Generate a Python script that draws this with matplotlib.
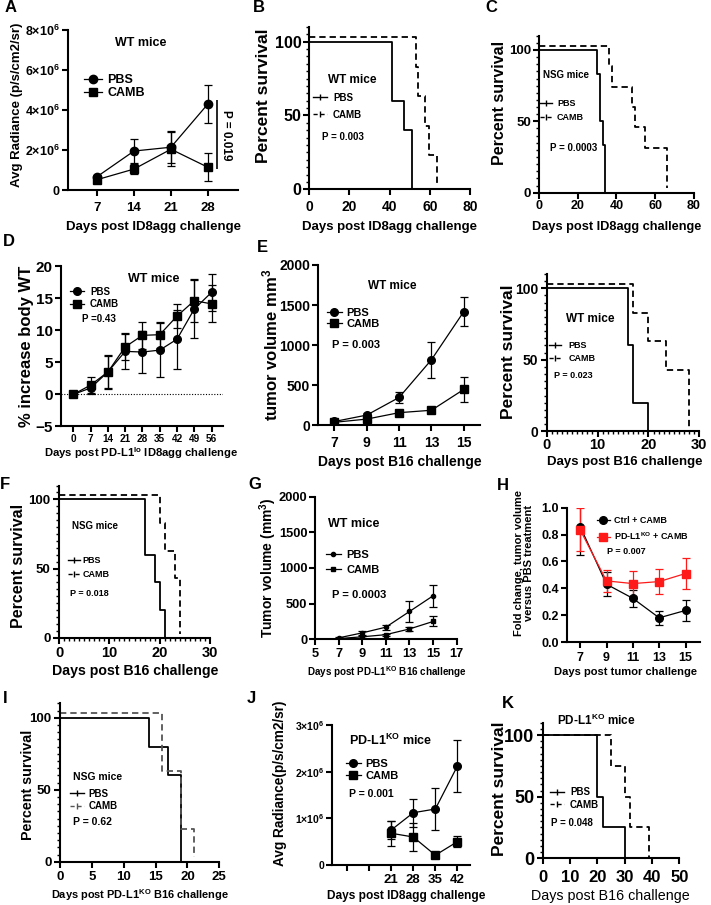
import matplotlib
matplotlib.use('Agg')
import matplotlib.pyplot as plt
from matplotlib.lines import Line2D
from matplotlib.ticker import MultipleLocator, FixedLocator

plt.rcParams['font.family'] = ['Liberation Sans', 'DejaVu Sans']
plt.rcParams['font.weight'] = 'bold'
plt.rcParams['axes.labelweight'] = 'bold'
plt.rcParams['mathtext.fontset'] = 'custom'
plt.rcParams['mathtext.rm'] = 'Liberation Sans:bold'
plt.rcParams['mathtext.it'] = 'Liberation Sans:bold'
plt.rcParams['mathtext.bf'] = 'Liberation Sans:bold'
plt.rcParams['mathtext.default'] = 'rm'

W, H = 711, 905
RED = '#ff1a1a'

# ---------------- data ----------------
# A: ID8agg radiance, WT mice
a_days = [7, 14, 21, 28]
a_pbs = [0.68e6, 1.96e6, 2.15e6, 4.31e6]
a_pbs_err = [0.08e6, 0.6e6, 0.8e6, 0.93e6]
a_camb = [0.53e6, 1.06e6, 2.05e6, 1.15e6]
a_camb_err = [0.08e6, 0.27e6, 0.85e6, 0.7e6]

# B: survival ID8agg, WT mice
b_pbs_t = [0, 41, 47, 51]
b_pbs_s = [100, 60, 40, 0]
b_camb_t = [0, 53, 54, 57.5, 59.5, 63.5]
b_camb_s = [100, 80, 60, 40, 20, 0]

# C: survival ID8agg, NSG mice
c_pbs_t = [0, 30, 31.5, 33, 34]
c_pbs_s = [100, 83.3, 50, 33.3, 0]
c_camb_t = [0, 36, 38, 48, 49.5, 55, 66]
c_camb_s = [100, 85.7, 71.4, 57.1, 42.9, 28.6, 0]

# D: body weight
d_days = [0, 7, 14, 21, 28, 35, 42, 49, 56]
d_pbs = [0, 1.0, 3.5, 6.7, 6.6, 6.9, 8.6, 13.3, 15.9]
d_pbs_err = [0, 0.9, 2.6, 2.7, 3.3, 4.2, 4.6, 4.5, 2.9]
d_camb = [0, 1.45, 3.5, 7.4, 9.2, 9.3, 12.2, 14.6, 14.1]
d_camb_err = [0, 1.2, 2.5, 2.1, 2.1, 2.0, 1.9, 3.3, 2.9]

# E: B16 tumor volume, WT mice
e_days = [7, 9, 11, 13, 15]
e_pbs = [50, 130, 350, 820, 1420]
e_pbs_err = [15, 30, 65, 225, 185]
e_camb = [40, 80, 160, 190, 450]
e_camb_err = [10, 20, 30, 40, 155]

# E (right): survival B16, WT mice
es_pbs_t = [0, 16, 17, 20]
es_pbs_s = [100, 60, 20, 0]
es_camb_t = [0, 17, 20, 23.5, 28]
es_camb_s = [100, 80, 60, 40, 0]

# F: survival B16, NSG mice
f_pbs_t = [0, 17, 19, 20, 21]
f_pbs_s = [100, 60, 40, 20, 0]
f_camb_t = [0, 20, 21, 23, 24]
f_camb_s = [100, 80, 60, 40, 0]

# G: PD-L1KO B16 tumor volume
g_days = [7, 9, 11, 13, 15]
g_pbs = [20, 90, 170, 390, 610]
g_pbs_err = [10, 30, 35, 150, 150]
g_camb = [10, 35, 65, 145, 250]
g_camb_err = [5, 10, 15, 30, 70]

# H: fold change
h_days = [7, 9, 11, 13, 15]
h_ctrl = [0.86, 0.43, 0.325, 0.18, 0.235]
h_ctrl_err = [0.21, 0.09, 0.065, 0.05, 0.08]
h_ko = [0.835, 0.455, 0.435, 0.45, 0.51]
h_ko_err = [0.16, 0.08, 0.09, 0.09, 0.115]

# I: survival PD-L1KO B16, NSG mice
i_pbs_t = [0, 14, 17, 19]
i_pbs_s = [100, 80, 60, 0]
i_camb_t = [0, 16, 19, 21]
i_camb_s = [100, 60, 20, 0]

# J: ID8agg radiance, PD-L1KO mice
j_days = [21, 28, 35, 42]
j_pbs = [0.75e6, 1.12e6, 1.2e6, 2.12e6]
j_pbs_err = [0.2e6, 0.3e6, 0.45e6, 0.56e6]
j_camb = [0.68e6, 0.6e6, 0.21e6, 0.5e6]
j_camb_err = [0.27e6, 0.3e6, 0.06e6, 0.12e6]

# K: survival B16, PD-L1KO mice
k_pbs_t = [0, 20, 22, 30]
k_pbs_s = [100, 50, 25, 0]
k_camb_t = [0, 25, 30, 32, 39]
k_camb_s = [100, 75, 50, 25, 0]

fig = plt.figure(figsize=(W / 100, H / 100), dpi=100)
TICK = 4.5  # major tick length, pt


def add_ax(x0, x1, yt, yb):
    ax = fig.add_axes([x0 / W, 1 - yb / H, (x1 - x0) / W, (yb - yt) / H])
    for s in ['top', 'right']:
        ax.spines[s].set_visible(False)
    for s in ['left', 'bottom']:
        ax.spines[s].set_linewidth(1.5)
    ax.tick_params(which='major', width=1.5, length=TICK, pad=1.5)
    ax.tick_params(which='minor', width=1.0, length=2.5)
    ax._yb = yb
    return ax


def xticks_at(ax, fs, center):
    # put x tick label digits centred at pixel row `center`
    fpx = fs * 100 / 72
    pad = (center - ax._yb - TICK * 100 / 72 - 0.39 * fpx) * 72 / 100
    ax.tick_params(axis='x', labelsize=fs, pad=max(pad, 0))


def ftext(x, y, s, fs, **kw):
    kw.setdefault('ha', 'left')
    kw.setdefault('va', 'center')
    kw.setdefault('fontweight', 'bold')
    return fig.text(x / W, 1 - y / H, s, fontsize=fs, **kw)


def legend(ax, handles, labels, mx, tx, y0, row, fs, hl=1.4):
    fpx = fs * 100 / 72
    th = 1.16 * fpx
    ls = max((row - th) / fpx, 0)
    left = mx - hl * fpx / 2
    pad = (tx - left - hl * fpx) / fpx
    ax.legend(handles, labels, loc='upper left',
              bbox_to_anchor=(left / W, 1 - (y0 - th / 2) / H),
              bbox_transform=fig.transFigure, frameon=False, borderpad=0,
              borderaxespad=0, handlelength=hl, handletextpad=pad,
              labelspacing=ls, prop={'size': fs, 'weight': 'bold'},
              numpoints=1)


def surv_proxies(dash_color='k'):
    return [Line2D([0], [0], color='k', lw=1.0, marker='|', ms=5),
            Line2D([0], [0], color=dash_color, lw=1.0, ls=(0, (3, 2)), marker='|', ms=5)]


def survival(ax, pt, ps, ct, cs, offset=3, dash_color='k'):
    ax.step(pt, ps, where='post', color='k', lw=1.3)
    ax.step(ct, [v + offset for v in cs], where='post', color=dash_color,
            lw=1.3, ls=(0, (3.5, 2.2)))
    ax.set_ylim(0, 110)
    ax.yaxis.set_major_locator(FixedLocator([0, 50, 100]))
    ax.yaxis.set_minor_locator(MultipleLocator(5))


def lines(ax, x, y1, e1, y2, e2, ms=5.5, c1='k', c2='k', lw=0.9):
    l1 = ax.errorbar(x, y1, yerr=e1, color=c1, marker='o', ms=ms, lw=lw,
                     capsize=3, elinewidth=0.9, capthick=0.9)
    l2 = ax.errorbar(x, y2, yerr=e2, color=c2, marker='s', ms=ms, lw=lw,
                     capsize=3, elinewidth=0.9, capthick=0.9)
    return l1[0], l2[0]


# ---------------- A ----------------
ax = add_ax(68, 238, 30, 190.3)
h1, h2 = lines(ax, a_days, a_pbs, a_pbs_err, a_camb, a_camb_err, ms=6)
ax.vlines(a_days[-1] + 1.8, a_camb[-1] - 0.1e6, a_pbs[-1] + 0.2e6, color='k', lw=1.2)
ax.set_xlim(1.5, 33.7)
ax.set_ylim(0, 8e6)
ax.set_xticks(a_days)
ax.set_yticks([0, 2e6, 4e6, 6e6, 8e6])
ax.set_yticklabels(['0', '2×10$^6$', '4×10$^6$', '6×10$^6$', '8×10$^6$'])
ax.tick_params(axis='y', labelsize=9)
xticks_at(ax, 9.5, 207)
legend(ax, [h1, h2], ['PBS', 'CAMB'], 93, 107, 81.7, 15, 9)
ftext(115, 43, 'WT mice', 9)
ftext(226, 135, 'P = 0.019', 8.5, rotation=-90, ha='center')
ftext(17, 105, 'Avg Radiance (p/s/cm2/sr)', 9.5, rotation=90, ha='center')
ftext(153, 227, 'Days post ID8agg challenge', 9.5, ha='center')

# ---------------- B ----------------
ax = add_ax(309, 470, 26.9, 189.3)
survival(ax, b_pbs_t, b_pbs_s, b_camb_t, b_camb_s)
ax.set_xlim(0, 80)
ax.set_xticks([0, 20, 40, 60, 80])
ax.tick_params(axis='y', labelsize=11.5, pad=1)
xticks_at(ax, 10, 205)
legend(ax, surv_proxies(), ['PBS', 'CAMB'], 320, 333, 98.3, 18.4, 7)
ftext(328, 80, 'WT mice', 8.5)
ftext(322, 136.7, 'P = 0.003', 7)
ftext(263, 96, 'Percent survival', 12.5, rotation=90, ha='center')
ftext(389.5, 227, 'Days post ID8agg challenge', 9.5, ha='center')

# ---------------- C ----------------
ax = add_ax(539, 693.7, 35.7, 192.7)
survival(ax, c_pbs_t, c_pbs_s, c_camb_t, c_camb_s)
ax.set_xlim(0, 80)
ax.set_xticks([0, 20, 40, 60, 80])
ax.tick_params(axis='y', labelsize=9.5, pad=1)
xticks_at(ax, 9, 205)
legend(ax, surv_proxies(), ['PBS', 'CAMB'], 546, 557, 104, 16, 6.5)
ftext(543, 75, 'NSG mice', 7)
ftext(550, 148.3, 'P = 0.0003', 7)
ftext(500, 103, 'Percent survival', 11.5, rotation=90, ha='center')
ftext(616.7, 227, 'Days post ID8agg challenge', 9.2, ha='center')

# ---------------- D ----------------
ax = add_ax(61, 222.7, 266, 426.5)
ax.axhline(0, color='k', lw=0.8, ls=(0, (1, 1.5)))
h1, h2 = lines(ax, d_days, d_pbs, d_pbs_err, d_camb, d_camb_err, ms=5.5)
ax.set_xlim(-5, 60.5)
ax.set_ylim(-5, 20)
ax.set_xticks(d_days)
ax.set_yticks([-5, 0, 5, 10, 15, 20])
ax.tick_params(axis='y', labelsize=11)
xticks_at(ax, 7.2, 437.5)
legend(ax, [h1, h2], ['PBS', 'CAMB'], 77.3, 90, 292.3, 13.7, 7)
ftext(128, 279.3, 'WT mice', 9)
ftext(81.7, 319.3, 'P =0.43', 7)
ftext(26.7, 346, '% increase body WT', 12, rotation=90, ha='center')
ftext(141, 453, 'Days post PD-L1$^{lo}$ ID8agg challenge', 8.1, ha='center')

# ---------------- E ----------------
ax = add_ax(318.3, 480, 265, 425.5)
h1, h2 = lines(ax, e_days, e_pbs, e_pbs_err, e_camb, e_camb_err, ms=5.5)
ax.set_xlim(6, 16)
ax.set_ylim(0, 2000)
ax.set_xticks(e_days)
ax.set_yticks([0, 500, 1000, 1500, 2000])
ax.tick_params(axis='y', labelsize=10)
xticks_at(ax, 10, 441)
legend(ax, [h1, h2], ['PBS', 'CAMB'], 334.3, 346.7, 314, 14.3, 8)
ftext(368.3, 285.7, 'WT mice', 8.5)
ftext(331.7, 345, 'P = 0.003', 8)
ftext(270, 345, 'tumor volume mm$^{3}$', 12, rotation=90, ha='center')
ftext(400, 462, 'Days post B16 challenge', 10, ha='center')

# ---------------- E (survival) ----------------
ax = add_ax(546.7, 699.3, 274, 431.3)
survival(ax, es_pbs_t, es_pbs_s, es_camb_t, es_camb_s)
ax.set_xlim(0, 30)
ax.set_xticks([0, 10, 20, 30])
ax.xaxis.set_minor_locator(MultipleLocator(1))
ax.tick_params(axis='y', labelsize=10)
xticks_at(ax, 10.5, 444)
legend(ax, surv_proxies(), ['PBS', 'CAMB'], 555, 568.3, 346.7, 14, 6.5)
ftext(566, 319, 'WT mice', 8.5)
ftext(554, 375.7, 'P = 0.023', 6.5)
ftext(508.3, 352, 'Percent survival', 12.5, rotation=90, ha='center')
ftext(624.5, 462, 'Days post B16 challenge', 9.5, ha='center')

# ---------------- F ----------------
ax = add_ax(59, 210, 485.5, 637.7)
survival(ax, f_pbs_t, f_pbs_s, f_camb_t, f_camb_s)
ax.set_xlim(0, 30)
ax.set_xticks([0, 10, 20, 30])
ax.xaxis.set_minor_locator(MultipleLocator(1))
ax.tick_params(axis='y', labelsize=9.5)
xticks_at(ax, 10.5, 651.7)
legend(ax, surv_proxies(), ['PBS', 'CAMB'], 74, 82.7, 561.7, 15, 6.5)
ftext(71.7, 525.7, 'NSG mice', 7)
ftext(70, 593.3, 'P = 0.018', 6.5)
ftext(18.3, 566, 'Percent survival', 11.5, rotation=90, ha='center')
ftext(135, 670.5, 'Days post B16 challenge', 10.2, ha='center')

# ---------------- G ----------------
ax = add_ax(315, 456.7, 496.7, 639.3)
h1, h2 = lines(ax, g_days, g_pbs, g_pbs_err, g_camb, g_camb_err, ms=3)
ax.set_xlim(5, 17)
ax.set_ylim(0, 2000)
ax.set_xticks([5, 7, 9, 11, 13, 15, 17])
ax.set_yticks([0, 500, 1000, 1500, 2000])
ax.tick_params(axis='y', labelsize=9.3, pad=1)
xticks_at(ax, 9.3, 653)
legend(ax, [h1, h2], ['PBS', 'CAMB'], 333.3, 346.7, 556.7, 17.3, 8)
ftext(328.3, 524, 'WT mice', 9)
ftext(331.7, 595, 'P = 0.0003', 8)
ftext(268.5, 568, 'Tumor volume (mm$^{3}$)', 10, rotation=90, ha='center')
ftext(387, 672, 'Days post PD-L1$^{KO}$ B16 challenge', 7.1, ha='center')

# ---------------- H ----------------
ax = add_ax(567, 700, 507.7, 642)
h1, h2 = lines(ax, h_days, h_ctrl, h_ctrl_err, h_ko, h_ko_err, ms=5.5, c2=RED)
ax.set_xlim(6, 16.1)
ax.set_ylim(0, 1.0)
ax.set_xticks(h_days)
ax.set_yticks([0, 0.2, 0.4, 0.6, 0.8, 1.0])
ax.set_yticklabels(['0.0', '0.2', '0.4', '0.6', '0.8', '1.0'])
ax.tick_params(axis='y', labelsize=9)
xticks_at(ax, 9, 656.7)
legend(ax, [h1, h2], ['Ctrl + CAMB', 'PD-L1$^{KO}$ + CAMB'], 603.3, 614, 521.7, 15, 6.5)
ftext(606.7, 551.7, 'P = 0.007', 6.5)
ftext(524, 563, 'Fold change, tumor volume\nversus PBS treatment', 8,
      rotation=90, ha='center', multialignment='center', linespacing=1.05)
ftext(625.8, 672, 'Days post tumor challenge', 8, ha='center')

# ---------------- I ----------------
ax = add_ax(60, 219.3, 703.3, 861.7)
survival(ax, i_pbs_t, i_pbs_s, i_camb_t, i_camb_s, dash_color='#555555')
ax.set_xlim(0, 25)
ax.set_xticks([0, 5, 10, 15, 20, 25])
ax.tick_params(axis='y', labelsize=9.5)
xticks_at(ax, 9.5, 876)
legend(ax, surv_proxies('#555555'), ['PBS', 'CAMB'], 77.3, 88.3, 794.3, 14, 7)
ftext(72.7, 776.7, 'NSG mice', 7.5)
ftext(72.7, 821.7, 'P = 0.62', 7.5)
ftext(28.3, 785, 'Percent survival', 10.3, rotation=90, ha='center')
ftext(140, 895, 'Days post PD-L1$^{KO}$ B16 challenge', 7.9, ha='center')

# ---------------- J ----------------
ax = add_ax(332.3, 470, 725, 865)
h1, h2 = lines(ax, j_days, j_pbs, j_pbs_err, j_camb, j_camb_err, ms=5.5)
ax.set_xlim(2.3, 46)
ax.set_ylim(0, 3e6)
ax.set_xticks([7, 14] + j_days)
ax.set_xticklabels(['', ''] + [str(d) for d in j_days])
ax.set_yticks([0, 1e6, 2e6, 3e6])
ax.set_yticklabels(['0', '1×10$^6$', '2×10$^6$', '3×10$^6$'])
ax.tick_params(axis='y', labelsize=7.5)
xticks_at(ax, 9.5, 879)
legend(ax, [h1, h2], ['PBS', 'CAMB'], 353.3, 365, 765, 15, 8)
ftext(349, 740, 'PD-L1$^{KO}$ mice', 9)
ftext(349, 794, 'P = 0.001', 7.5)
ftext(280, 783, 'Avg Radiance(p/s/cm2/sr)', 9.8, rotation=90, ha='center')
ftext(406, 895.5, 'Days post ID8agg challenge', 8.6, ha='center')

# ---------------- K ----------------
ax = add_ax(542.7, 679.3, 722.7, 858.3)
survival(ax, k_pbs_t, k_pbs_s, k_camb_t, k_camb_s, offset=0)
ax.set_xlim(0, 50)
ax.set_xticks([0, 10, 20, 30, 40, 50])
ax.tick_params(axis='y', labelsize=13)
xticks_at(ax, 12, 876.5)
legend(ax, surv_proxies(), ['PBS', 'CAMB'], 557.3, 570, 792.7, 14, 7)
ftext(557.3, 720, 'PD-L1$^{KO}$ mice', 8.5)
ftext(551, 822.7, 'P = 0.048', 7)
ftext(499.3, 789, 'Percent survival', 12.5, rotation=90, ha='center')
ftext(610.8, 896, 'Days post B16 challenge', 10.3, ha='center', fontweight='normal')

# panel letters
for lab, x, y in [('A', 5, 7), ('B', 253, 7), ('C', 485, 8), ('D', 3, 242),
                  ('E', 257, 247), ('F', 0, 484), ('G', 248, 484), ('H', 497, 485),
                  ('I', 3, 698), ('J', 247, 698), ('K', 502, 703)]:
    ftext(x, y, lab, 12)

fig.savefig('out.png', dpi=100)
